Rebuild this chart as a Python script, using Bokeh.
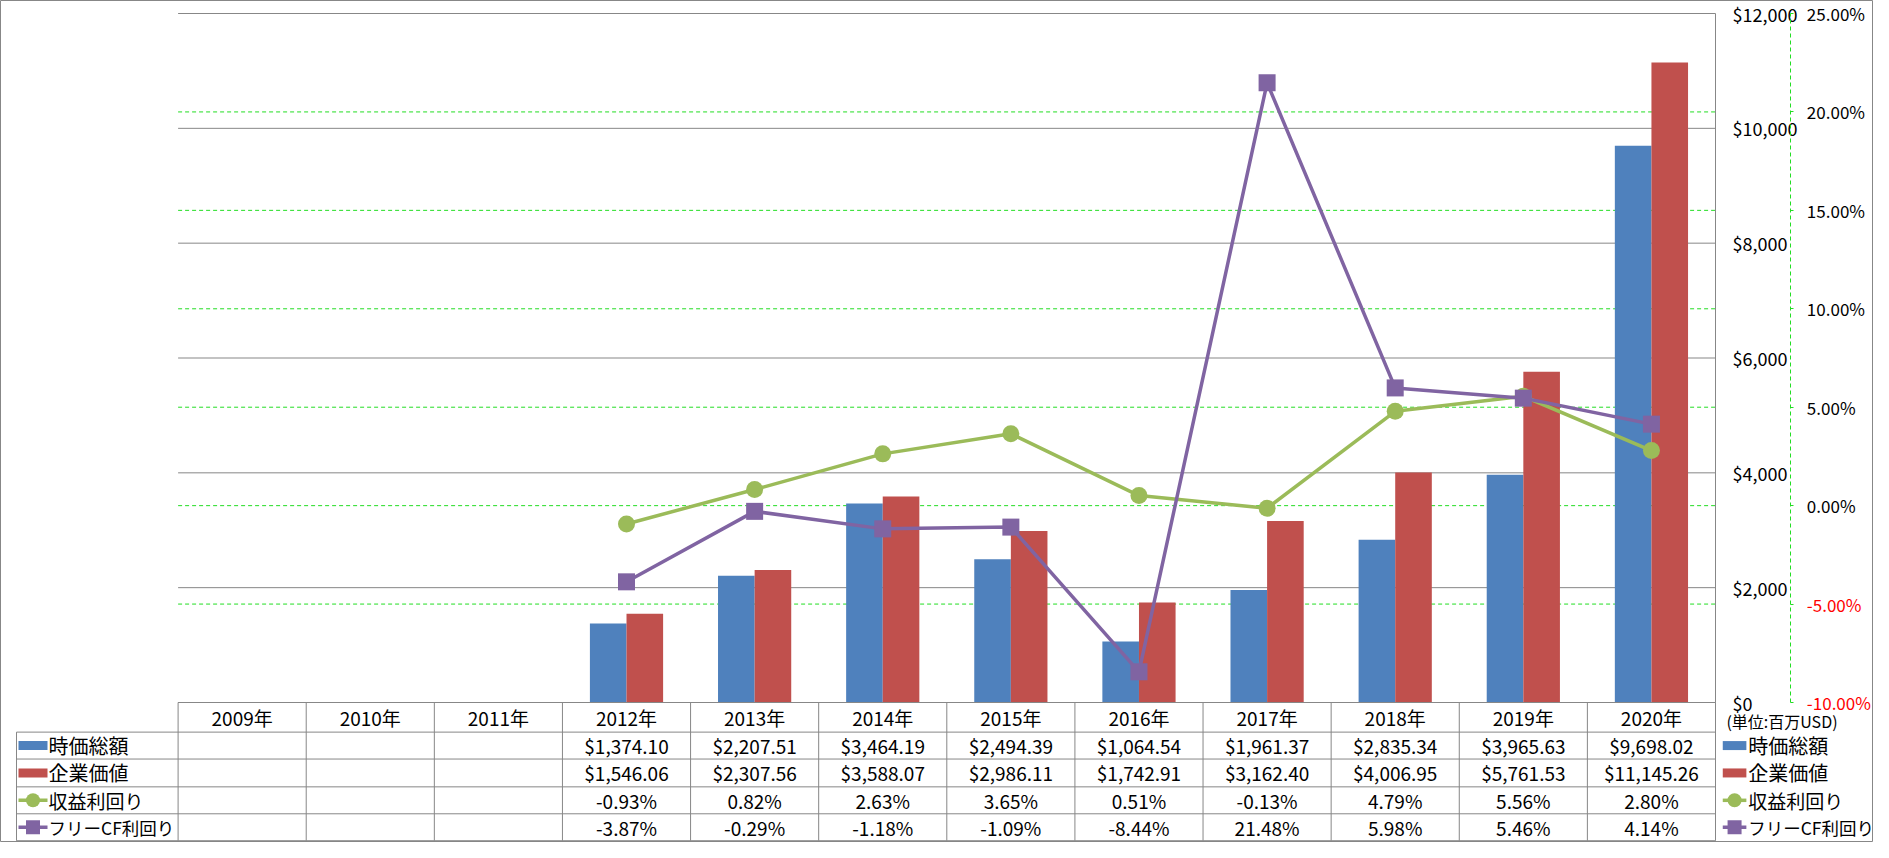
import numpy as np
from bokeh.plotting import figure
from bokeh.models import Range1d, LinearAxis, FixedTicker, NumeralTickFormatter, PrintfTickFormatter
from bokeh.core.properties import value
from bokeh.embed import file_html
from bokeh.resources import INLINE

# ---------------- data ----------------
years = ["2009年", "2010年", "2011年", "2012年", "2013年", "2014年",
         "2015年", "2016年", "2017年", "2018年", "2019年", "2020年"]
market_cap = [None, None, None, 1374.10, 2207.51, 3464.19, 2494.39, 1064.54,
              1961.37, 2835.34, 3965.63, 9698.02]
enterprise_value = [None, None, None, 1546.06, 2307.56, 3588.07, 2986.11, 1742.91,
                    3162.40, 4006.95, 5761.53, 11145.26]
earnings_yield = [None, None, None, -0.93, 0.82, 2.63, 3.65, 0.51,
                  -0.13, 4.79, 5.56, 2.80]
fcf_yield = [None, None, None, -3.87, -0.29, -1.18, -1.09, -8.44,
             21.48, 5.98, 5.46, 4.14]
series_names = ["時価総額", "企業価値", "収益利回り", "フリーCF利回り"]
usd_ticks = [0, 2000, 4000, 6000, 8000, 10000, 12000]
pct_ticks_pos = [0, 5, 10, 15, 20, 25]
pct_ticks_neg = [-10, -5]
unit_label = "(単位:百万USD)"

# ---------------- styles / geometry ----------------
W, H = 1873, 842
REF_W, REF_H = 1889.0, 858.0
PL, PR, PT, PB = 177.6, 1715.0, 13.0, 702.0
USD_MAX, PCT_MIN, PCT_MAX = 12000.0, -10.0, 25.0
BLUE, RED, GREEN, PURPLE = "#4F81BD", "#C0504D", "#9BBB59", "#8064A2"
GRAY = "#878787"
LIME = "#22DD22"
FONT = value("Noto Sans CJK JP")
NAME_SIZES = ["20px", "20px", "19px", "17.5px"]

n = len(years)
cw = (PR - PL) / n


def rx(px):
    # reference x -> canvas x (right panel compressed)
    if px <= PR:
        return px
    return PR + (px - PR) * (W - PR) / (REF_W - PR)


def ry(py):
    # reference y -> canvas y (table area compressed)
    if py <= PB:
        return py
    return PB + (py - PB) * (H - PB) / (REF_H - PB)


def cx(px):
    return (rx(px) - PL) / cw


def usd_at(py):
    return (PB - py) / (PB - PT) * USD_MAX


def pct_at(py):
    return PCT_MIN + (PB - py) / (PB - PT) * (PCT_MAX - PCT_MIN)


def arr(v):
    return np.array([np.nan if a is None else a for a in v], dtype=float)


mc, ev, ey, fy = arr(market_cap), arr(enterprise_value), arr(earnings_yield), arr(fcf_yield)
xc = np.arange(n) + 0.5
bw = 1 / 3.5

p = figure(width=W, height=H, output_backend="svg", toolbar_location=None,
           x_range=Range1d((0 - PL) / cw, (W - PL) / cw),
           y_range=Range1d(usd_at(H), usd_at(0)),
           x_axis_location=None, y_axis_location=None,
           min_border=0, min_border_left=0, min_border_right=0,
           min_border_top=0, min_border_bottom=0)
p.extra_y_ranges = {"pct": Range1d(pct_at(H), pct_at(0)),
                    "tbl": Range1d(H, 0)}
p.grid.visible = False
p.background_fill_color = "white"
p.border_fill_color = "white"
p.outline_line_color = GRAY
p.outline_line_width = 1

# gridlines
p.segment(x0=0, x1=n, y0=usd_ticks, y1=usd_ticks, line_color=GRAY, line_width=1)
gl = [-5, 0, 5, 10, 15, 20]
p.segment(x0=0, x1=n, y0=gl, y1=gl, y_range_name="pct",
          line_color=LIME, line_width=1, line_dash="4 3")

# bars
p.vbar(x=xc - bw / 2, top=mc, bottom=0, width=bw, fill_color=BLUE, line_color=None)
p.vbar(x=xc + bw / 2, top=ev, bottom=0, width=bw, fill_color=RED, line_color=None)

# lines
p.line(xc, ey, y_range_name="pct", line_color=GREEN, line_width=3.5)
p.scatter(xc, ey, y_range_name="pct", marker="circle", size=17,
          fill_color=GREEN, line_color=None)
p.line(xc, fy, y_range_name="pct", line_color=PURPLE, line_width=3.5)
p.scatter(xc, fy, y_range_name="pct", marker="square", size=17,
          fill_color=PURPLE, line_color=None)

# axes
ax_usd = LinearAxis(fixed_location=cx(PR), bounds=(0, USD_MAX),
                    ticker=FixedTicker(ticks=usd_ticks),
                    formatter=NumeralTickFormatter(format="$0,0"))
ax_usd.axis_line_color = GRAY
ax_usd.major_tick_out = 0
ax_usd.major_tick_in = 0
ax_usd.minor_tick_out = 0
ax_usd.minor_tick_in = 0
ax_usd.major_label_standoff = 17
ax_usd.major_label_text_font = "Noto Sans CJK JP"
ax_usd.major_label_text_font_size = "18px"
ax_usd.major_label_text_color = "black"
p.add_layout(ax_usd, "right")

for ticks, col, show_line in [(pct_ticks_pos, "black", True), (pct_ticks_neg, "#FF0000", False)]:
    ax = LinearAxis(y_range_name="pct", fixed_location=cx(1798), bounds=(PCT_MIN, PCT_MAX),
                    ticker=FixedTicker(ticks=ticks),
                    formatter=PrintfTickFormatter(format="%.2f%%"))
    ax.axis_line_color = LIME if show_line else None
    ax.axis_line_dash = "4 3"
    ax.major_tick_line_color = LIME
    ax.major_tick_out = 3
    ax.major_tick_in = 0
    ax.minor_tick_out = 0
    ax.minor_tick_in = 0
    ax.major_label_standoff = 13
    ax.major_label_text_font = "Noto Sans CJK JP"
    ax.major_label_text_font_size = "17px"
    ax.major_label_text_color = col
    p.add_layout(ax, "right")

# ---------------- data table ----------------
row_edges = [ry(v) for v in [702, 735, 765, 796, 826, 856]]
row_y = [(row_edges[i] + row_edges[i + 1]) / 2 for i in range(5)]
vx = list(range(n + 1))
p.segment(x0=vx, x1=vx, y0=row_edges[0], y1=row_edges[-1], y_range_name="tbl",
          line_color=GRAY, line_width=1)
p.segment(x0=cx(16), x1=cx(16), y0=row_edges[1], y1=row_edges[-1], y_range_name="tbl",
          line_color=GRAY, line_width=1)
p.segment(x0=0, x1=n, y0=row_edges[0], y1=row_edges[0], y_range_name="tbl",
          line_color=GRAY, line_width=1)
hy = row_edges[1:]
p.segment(x0=cx(16), x1=n, y0=hy, y1=hy, y_range_name="tbl", line_color=GRAY, line_width=1)

p.text(x=xc, y=row_y[0], text=years, y_range_name="tbl", text_font=FONT,
       text_font_size="19px", text_align="center", text_baseline="middle", text_color="black")


def fmt_usd(v):
    return "" if np.isnan(v) else "${:,.2f}".format(v)


def fmt_pct(v):
    return "" if np.isnan(v) else "{:.2f}%".format(v)


rows = [[fmt_usd(v) for v in mc], [fmt_usd(v) for v in ev],
        [fmt_pct(v) for v in ey], [fmt_pct(v) for v in fy]]
for r, texts in enumerate(rows):
    p.text(x=xc, y=row_y[r + 1], text=texts, y_range_name="tbl", text_font=FONT,
           text_font_size="19px", text_align="center", text_baseline="middle", text_color="black")

# legend keys (left column of the table and right-side legend)
colors = [BLUE, RED, GREEN, PURPLE]
for (k0, k1, tx) in [(18, 47, 48), (1723, 1749, 1751)]:
    for r in range(4):
        y = row_y[r + 1]
        mid = (cx(k0) + cx(k1)) / 2
        if r < 2:
            p.rect(x=mid, y=y, width=cx(k1) - cx(k0), height=9, y_range_name="tbl",
                   fill_color=colors[r], line_color=None)
        else:
            p.segment(x0=cx(k0), x1=cx(k1), y0=y, y1=y, y_range_name="tbl",
                      line_color=colors[r], line_width=3.5)
            p.scatter(x=mid, y=y, y_range_name="tbl", size=14,
                      marker="circle" if r == 2 else "square",
                      fill_color=colors[r], line_color=None)
        p.text(x=cx(tx), y=y, text=[series_names[r]], y_range_name="tbl", text_font=FONT,
               text_font_size=NAME_SIZES[r], text_align="left", text_baseline="middle",
               text_color="black")

p.text(x=cx(1727), y=ry(723), text=[unit_label], y_range_name="tbl", text_font=FONT,
       text_font_size="16px", text_align="left", text_baseline="middle", text_color="black")

open("out.html", "w").write(file_html(p, INLINE))
